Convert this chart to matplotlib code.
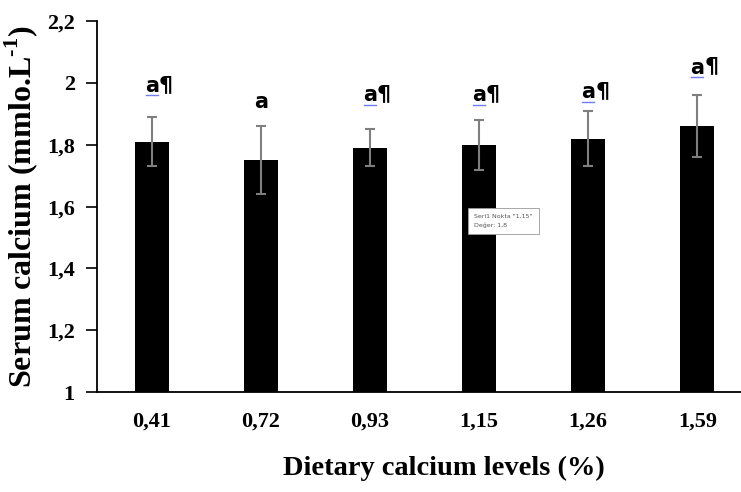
import matplotlib
matplotlib.use("Agg")
import matplotlib.pyplot as plt

# --- datos ---
levels = ["0,41", "0,72", "0,93", "1,15", "1,26", "1,59"]
means = [1.81, 1.75, 1.79, 1.80, 1.82, 1.86]
errors = [0.08, 0.11, 0.06, 0.08, 0.09, 0.10]
letters = ["a", "a", "a", "a", "a", "a"]
pilcrow = [True, False, True, True, True, True]
label_y = [1.99, 1.94, 1.96, 1.96, 1.97, 2.05]
yticks = [1, 1.2, 1.4, 1.6, 1.8, 2, 2.2]
ytick_labels = ["1", "1,2", "1,4", "1,6", "1,8", "2", "2,2"]

serif = "Liberation Serif"
plt.rcParams["mathtext.fontset"] = "custom"
plt.rcParams["mathtext.rm"] = "Liberation Serif:bold"
plt.rcParams["mathtext.bf"] = "Liberation Serif:bold"

fig = plt.figure(figsize=(7.41, 4.92), dpi=100)
ax = fig.add_axes([0.131, 0.203, 0.869, 0.754])

x = list(range(len(levels)))
ax.bar(x, [m - 1 for m in means], bottom=1, width=0.31, color="black", zorder=2)
ax.errorbar(x, means, yerr=errors, fmt="none", ecolor="#7f7f7f",
            elinewidth=1.5, capsize=3.6, capthick=1.5, zorder=3)

# letras de significancia
for i, (let, pc, ly) in enumerate(zip(letters, pilcrow, label_y)):
    ax.text(i, ly, let, ha="center", va="center", fontsize=15,
            fontweight="bold", family="DejaVu Sans", color="black")
    if pc:
        ax.annotate("¶", xy=(i, ly), xytext=(5, 1), textcoords="offset points",
                    ha="left", va="center", fontsize=16, fontweight="bold",
                    family="DejaVu Sans", color="black")
        ax.plot([i - 0.055, i + 0.055], [ly - 0.03, ly - 0.03],
                color="#4a5cf0", lw=1.0, alpha=0.8)

ax.set_xlim(-0.5, 5.4)
ax.set_ylim(1, 2.2)
ax.set_xticks(x)
ax.set_xticklabels(levels, fontsize=16, fontweight="bold", family=serif)
ax.set_yticks(yticks)
ax.set_yticklabels(ytick_labels, fontsize=16, fontweight="bold", family=serif)
ax.tick_params(axis="x", length=0, pad=14)
ax.tick_params(axis="y", length=8, width=1.2, pad=8)

for side in ["top", "right"]:
    ax.spines[side].set_visible(False)
for side in ["left", "bottom"]:
    ax.spines[side].set_linewidth(1.3)

ax.set_xlabel("Dietary calcium levels (%)", fontsize=20.5, fontweight="bold",
              family=serif)
ax.xaxis.set_label_coords(0.538, -0.172)
ax.set_ylabel(r"Serum calcium (mmlo.L$^{\text{-1}}$)", fontsize=23,
              fontweight="bold", family=serif, labelpad=5)

# tooltip de Excel
fig.text(0.640, 0.551, 'Seri1 Nokta "1,15"\nDeğer: 1,8', fontsize=4.5,
         color="#555555", family="DejaVu Sans", va="center", ha="left",
         linespacing=1.8,
         bbox=dict(boxstyle="square,pad=1.0", fc="white", ec="#9a9a9a", lw=0.6))

fig.savefig("out.png", dpi=100)
